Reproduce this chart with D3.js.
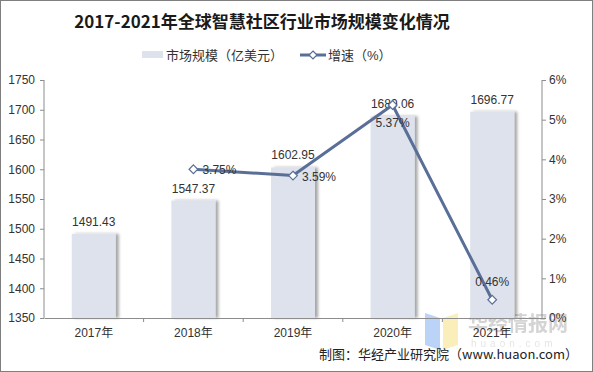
<!DOCTYPE html>
<html lang="zh">
<head>
<meta charset="UTF-8">
<title>2017-2021年全球智慧社区行业市场规模变化情况</title>
<script src="https://d3js.org/d3.v7.min.js"></script>
<style>
  body { margin: 0; background: #fff; }
  svg text { font-family: "Liberation Sans", Arial, "Noto Sans CJK SC", sans-serif; }
</style>
</head>
<body>
<div id="chart"></div>
<script>
// 数据
const years = ['2017年', '2018年', '2019年', '2020年', '2021年'];
const marketSize = [1491.43, 1547.37, 1602.95, 1689.06, 1696.77];
const growth = [null, 3.75, 3.59, 5.37, 0.46];
const leftTicks = [1350, 1400, 1450, 1500, 1550, 1600, 1650, 1700, 1750];
const rightTicks = [0, 1, 2, 3, 4, 5, 6];
// 增速标签位置
const growthLabelPos = [null, 'right', 'right', 'below', 'above'];

const W = 593, H = 372;
const margin = { top: 80, right: 51, bottom: 54, left: 44 };
const iw = W - margin.left - margin.right;
const ih = H - margin.top - margin.bottom;
const barColor = '#dde2ec';
const lineColor = '#5a6f98';
const axisColor = '#8c8c8c';

const svg = d3.select('#chart').append('svg')
  .attr('width', W).attr('height', H);

const defs = svg.append('defs');
const f = defs.append('filter').attr('id', 'shadow')
  .attr('x', '-20%').attr('y', '-5%').attr('width', '150%').attr('height', '110%');
f.append('feDropShadow').attr('dx', 3).attr('dy', 0).attr('stdDeviation', 1.5)
  .attr('flood-color', '#000').attr('flood-opacity', 0.35);

// 外框
svg.append('rect').attr('x', 0.5).attr('y', 0.5).attr('width', W - 1).attr('height', H - 1)
  .attr('fill', 'none').attr('stroke', '#7f7f7f');

// 标题
svg.append('text').attr('x', 262).attr('y', 28).attr('text-anchor', 'middle')
  .style('font-family', '"Noto Sans CJK SC", sans-serif')
  .style('font-size', '17px').style('font-weight', 'bold').attr('fill', '#1a1a1a')
  .text('2017-2021年全球智慧社区行业市场规模变化情况');

// 图例
const lg = svg.append('g').style('font-family', '"Noto Sans CJK SC", sans-serif')
  .style('font-size', '13px').attr('fill', '#333');
lg.append('rect').attr('x', 142).attr('y', 51).attr('width', 21).attr('height', 7).attr('fill', barColor);
lg.append('text').attr('x', 166).attr('y', 60).text('市场规模（亿美元）');
lg.append('line').attr('x1', 300).attr('x2', 326).attr('y1', 55).attr('y2', 55)
  .attr('stroke', lineColor).attr('stroke-width', 3);
lg.append('path').attr('d', d3.symbol(d3.symbolDiamond2, 40)())
  .attr('transform', 'translate(313,55)').attr('fill', '#fff').attr('stroke', lineColor).attr('stroke-width', 1.2);
lg.append('text').attr('x', 328).attr('y', 60).text('增速（%）');

// 水印（放在图层底部）
const wm = svg.append('g').attr('opacity', 0.5);
wm.append('path').attr('d', 'M425,313 L440,318 L440,350 L425,345 Z').attr('fill', '#7aa9f0');
wm.append('path').attr('d', 'M443,318 L458,313 L458,345 L443,350 Z').attr('fill', '#f7de7a');
wm.append('text').attr('x', 468).attr('y', 331)
  .style('font-family', '"Noto Sans CJK SC", sans-serif').style('font-size', '20px').style('font-weight', 'bold')
  .attr('fill', '#aaa').text('华经情报网');
wm.append('text').attr('x', 471).attr('y', 347)
  .style('font-size', '10px').style('letter-spacing', '4px').attr('fill', '#ccc').text('huaon.com');

const g = svg.append('g').attr('transform', `translate(${margin.left},${margin.top})`);

const x = d3.scaleBand().domain(years).range([0, iw]);
const yL = d3.scaleLinear().domain([1350, 1750]).range([ih, 0]);
const yR = d3.scaleLinear().domain([0, 6]).range([ih, 0]);
const bw = 44;

// 柱子
g.selectAll('.bar').data(marketSize).enter().append('rect')
  .attr('class', 'bar')
  .attr('x', (d, i) => x(years[i]) + x.bandwidth() / 2 - bw / 2)
  .attr('y', d => yL(d))
  .attr('width', bw)
  .attr('height', d => ih - yL(d))
  .attr('fill', barColor)
  .attr('filter', 'url(#shadow)');

// 柱标签
g.selectAll('.barlab').data(marketSize).enter().append('text')
  .attr('x', (d, i) => x(years[i]) + x.bandwidth() / 2)
  .attr('y', d => yL(d) - 8)
  .attr('text-anchor', 'middle').style('font-size', '12px').attr('fill', '#333')
  .text(d => d.toFixed(2));

// 坐标轴
const axL = g.append('g').call(d3.axisLeft(yL).tickValues(leftTicks).tickSize(4).tickPadding(5).tickFormat(d3.format('d')));
const axR = g.append('g').attr('transform', `translate(${iw},0)`)
  .call(d3.axisRight(yR).tickValues(rightTicks).tickSize(4).tickPadding(3).tickFormat(d => d + '%'));
const axB = g.append('g').attr('transform', `translate(0,${ih})`)
  .call(d3.axisBottom(x).tickSize(0).tickPadding(10));
[axL, axR, axB].forEach(a => {
  a.select('.domain').attr('stroke', axisColor);
  a.selectAll('.tick line').attr('stroke', axisColor);
  a.selectAll('.tick text').style('font-size', '12px').attr('fill', '#333')
    .style('font-family', '"Liberation Sans", Arial, "Noto Sans CJK SC", sans-serif');
});
axL.select('.domain').attr('d', `M0,0V${ih}`);
axR.select('.domain').attr('d', `M0,0V${ih}`);
// 类目分隔刻度
g.append('g').selectAll('line').data(years.slice(1)).enter().append('line')
  .attr('x1', d => x(d)).attr('x2', d => x(d)).attr('y1', ih).attr('y2', ih + 4)
  .attr('stroke', axisColor);

// 增速折线
const pts = growth.map((v, i) => ({ v, i })).filter(d => d.v !== null);
const line = d3.line().x(d => x(years[d.i]) + x.bandwidth() / 2).y(d => yR(d.v));
g.append('path').datum(pts).attr('d', line)
  .attr('fill', 'none').attr('stroke', lineColor).attr('stroke-width', 3).attr('stroke-linejoin', 'round');
g.selectAll('.mk').data(pts).enter().append('path')
  .attr('d', d3.symbol(d3.symbolDiamond2, 48)())
  .attr('transform', d => `translate(${x(years[d.i]) + x.bandwidth() / 2},${yR(d.v)})`)
  .attr('fill', '#fff').attr('stroke', lineColor).attr('stroke-width', 1.2);

g.selectAll('.glab').data(pts).enter().append('text')
  .attr('x', d => {
    const cx = x(years[d.i]) + x.bandwidth() / 2;
    return growthLabelPos[d.i] === 'right' ? cx + 9 : cx;
  })
  .attr('y', d => {
    const cy = yR(d.v);
    const p = growthLabelPos[d.i];
    if (p === 'below') return cy + 22;
    if (p === 'above') return cy - 14;
    return cy + 5;
  })
  .attr('text-anchor', d => growthLabelPos[d.i] === 'right' ? 'start' : 'middle')
  .style('font-size', '12px').attr('fill', '#333')
  .text(d => d.v.toFixed(2) + '%');

// 来源
svg.append('text').attr('x', 578).attr('y', 359).attr('text-anchor', 'end')
  .style('font-family', '"Noto Sans CJK SC", sans-serif').style('font-size', '13px').attr('fill', '#222')
  .text('制图：华经产业研究院（www.huaon.com）');
</script>
</body>
</html>
